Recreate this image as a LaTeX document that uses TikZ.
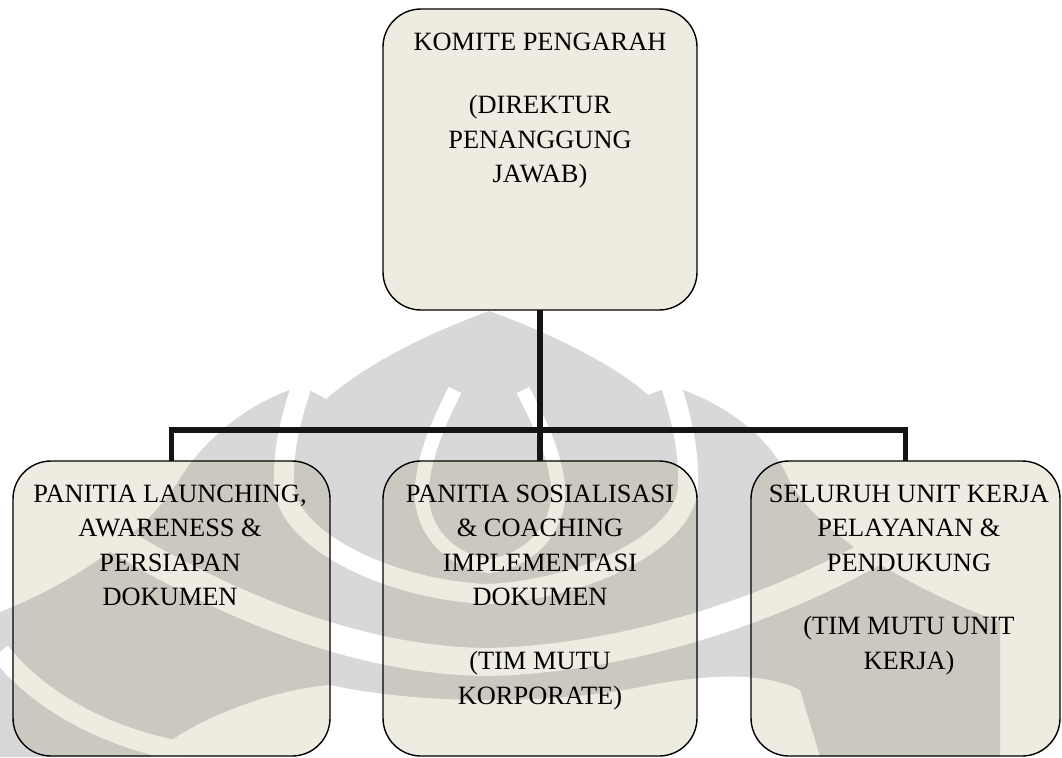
\documentclass[tikz,border=0pt]{standalone}
\usepackage{fontspec}
\setmainfont{Liberation Serif}
\definecolor{boxfill}{RGB}{238,236,225}
\definecolor{wmgray}{RGB}{216,216,216}
\definecolor{wmbeige}{RGB}{202,200,191}
\definecolor{linkblack}{RGB}{20,20,20}

% Faint emblem behind the chart: #1 = tint of the emblem, #2 = ground colour of its light bands
\newcommand\makara[2]{%
  \fill[#1] (0,757) -- (0,612) .. controls (70,585) and (145,535) .. (179,480)
     .. controls (200,445) and (245,402) .. (302,386)
     -- (326,399) .. controls (372,360) and (430,333) .. (489,311)
     .. controls (552,334) and (615,365) .. (648,395)
     -- (672,386) .. controls (730,405) and (772,440) .. (789,480)
     .. controls (815,530) and (900,585) .. (1000,622) -- (1000,757) -- cycle;
  % outer leaf outline
  \draw[#2, line width=15pt] (303,382) .. controls (290,420) and (283,450) .. (284,485)
     .. controls (286,540) and (390,590) .. (487,594)
     .. controls (584,590) and (688,540) .. (688,485)
     .. controls (689,450) and (682,420) .. (670,382);
  % inner leaf outline
  \draw[#2, line width=10.5pt] (455,390) .. controls (440,420) and (426,450) .. (422,485)
     .. controls (418,525) and (445,560) .. (489,566)
     .. controls (533,560) and (562,525) .. (558,485)
     .. controls (554,450) and (538,420) .. (523,390);
  % wide sweeping band
  \draw[#2, line width=21pt] (40,490) .. controls (200,600) and (350,660) .. (485,662)
     .. controls (620,660) and (800,610) .. (950,505);
  % lower sweep
  \fill[#2] (150,757) .. controls (190,720) and (270,690) .. (330,685)
     .. controls (420,705) and (560,705) .. (650,685)
     .. controls (700,676) and (760,670) .. (800,690) -- (820,757) -- cycle;
  \draw[#2, line width=15pt] (0,652) .. controls (30,690) and (90,735) .. (185,752);
}

\begin{document}
\begin{tikzpicture}[x=0.75pt, y=-0.75pt,
  box/.style={fill=boxfill, rounded corners=28.5pt, inner sep=0pt, outer sep=0pt},
  rim/.style={draw=black, line width=1.05pt, rounded corners=28.5pt},
  conn/.style={draw=linkblack, line width=4.1pt},
  lbl/.style={inner sep=0pt, anchor=base, font=\fontsize{19.8pt}{25.9pt}\selectfont}]

\useasboundingbox (0,0) rectangle (1062,757);

\makara{wmgray}{white}

% boxes
\node[box, minimum width=235.5pt, minimum height=225.75pt] (pengarah) at (540,159.5) {};
\node[box, minimum width=237.75pt, minimum height=221.25pt] (launching) at (171.5,608.5) {};
\node[box, minimum width=235.5pt, minimum height=221.25pt] (sosialisasi) at (540,608.5) {};
\node[box, minimum width=231.75pt, minimum height=221.25pt] (unitkerja) at (905.5,608.5) {};

% emblem seen through the lower boxes
\begin{scope}
  \clip[rounded corners=28.5pt]
    (launching.south west) rectangle (launching.north east)
    (sosialisasi.south west) rectangle (sosialisasi.north east)
    (unitkerja.south west) rectangle (unitkerja.north east);
  \makara{wmbeige}{boxfill}
\end{scope}

\foreach \b in {pengarah,launching,sosialisasi,unitkerja}
  \draw[rim] (\b.south west) rectangle (\b.north east);

% connectors
\coordinate (hub) at (540,430);
\draw[conn] (pengarah.south) -- (hub);
\draw[conn] (launching.north) |- (hub) -| (unitkerja.north);
\draw[conn] (hub) -- (sosialisasi.north);

% labels
\node[lbl] (tPengarah) at ([yshift=-30.75pt]pengarah.north)
  {\begin{tabular}[t]{@{}c@{}}KOMITE PENGARAH\\[22pt](DIREKTUR\\PENANGGUNG\\JAWAB)\end{tabular}};
\node[lbl] (tLaunching) at ([xshift=-1.1pt,yshift=-30.75pt]launching.north)
  {\begin{tabular}[t]{@{}c@{}}PANITIA LAUNCHING,\\AWARENESS \&\\PERSIAPAN\\DOKUMEN\end{tabular}};
\node[lbl] (tSosialisasi) at ([yshift=-30.75pt]sosialisasi.north)
  {\begin{tabular}[t]{@{}c@{}}PANITIA SOSIALISASI\\\& COACHING\\IMPLEMENTASI\\DOKUMEN\\[22pt](TIM MUTU\\KORPORATE)\end{tabular}};
\node[lbl] (tUnitkerja) at ([xshift=2.6pt,yshift=-30.75pt]unitkerja.north)
  {\begin{tabular}[t]{@{}c@{}}SELURUH UNIT KERJA\\PELAYANAN \&\\PENDUKUNG\\[22pt](TIM MUTU UNIT\\KERJA)\end{tabular}};
\end{tikzpicture}
\end{document}
